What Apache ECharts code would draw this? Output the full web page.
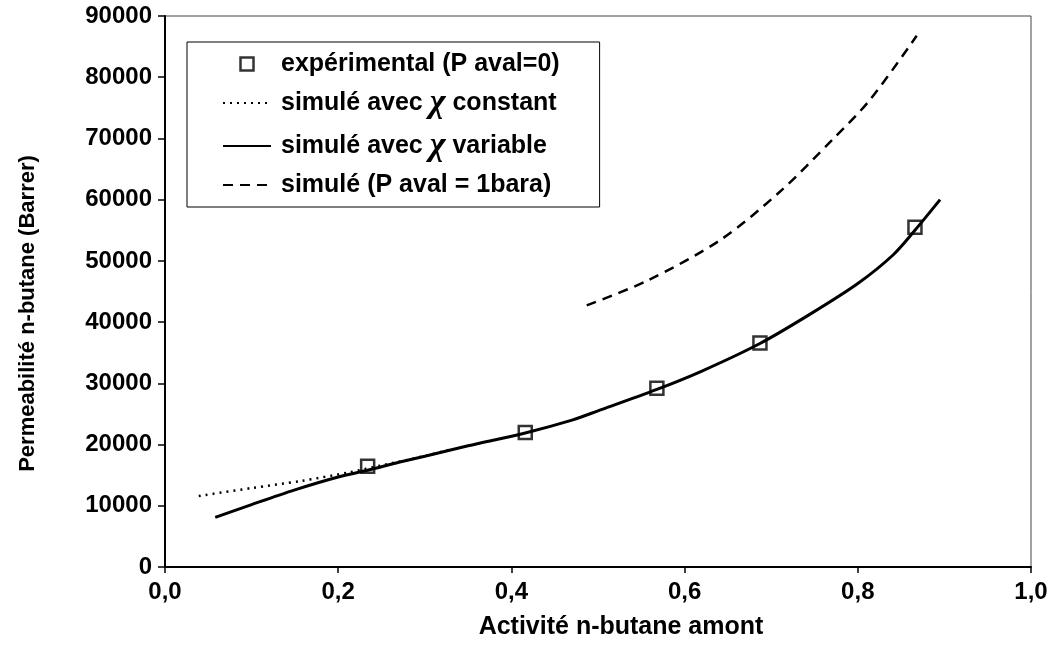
<!DOCTYPE html>
<html>
<head>
<meta charset="utf-8">
<script src="https://cdn.jsdelivr.net/npm/echarts@6/dist/echarts.min.js"></script>
<style>html,body{margin:0;padding:0;background:#fff}#c{width:1057px;height:645px}</style>
</head>
<body>
<div id="c"></div>
<script>
// Experimental points (P aval = 0)
const expX = [0.234, 0.416, 0.568, 0.687, 0.866];
const expY = [16450, 21950, 29200, 36600, 55500];
// Simulated, chi constant (dotted)
const constX = [0.039, 0.100, 0.157, 0.214, 0.250, 0.290, 0.330];
const constY = [11600, 12900, 14050, 15500, 16600, 17800, 19200];
// Simulated, chi variable (solid)
const varX = [0.058, 0.100, 0.150, 0.200, 0.234, 0.270, 0.300, 0.350, 0.416, 0.470, 0.500, 0.568, 0.620, 0.687, 0.745, 0.800, 0.841, 0.866, 0.895];
const varY = [8100, 10200, 12600, 14700, 15800, 17100, 18100, 19800, 21900, 24000, 25500, 29000, 32000, 36500, 41300, 46300, 51000, 55000, 60000];
// Simulated, P aval = 1 bara (dashed)
const dashX = [0.487, 0.557, 0.641, 0.710, 0.771, 0.814, 0.868];
const dashY = [42740, 46770, 53390, 61290, 69840, 76290, 86770];
// Legend names
const names = ['expérimental (P aval=0)', 'simulé avec χ constant', 'simulé avec χ variable', 'simulé (P aval = 1bara)'];
// Axis ticks
const xTicks = { min: 0, max: 1, interval: 0.2 };
const yTicks = { min: 0, max: 90000, interval: 10000 };

const pairs = (xs, ys) => xs.map((x, i) => [x, ys[i]]);
const FONT = '"Liberation Sans", Arial, Helvetica, sans-serif';
const noSym = { color: 'rgba(0,0,0,0)', borderColor: 'rgba(0,0,0,0)', borderWidth: 0 };

const chart = echarts.init(document.getElementById('c'));
chart.setOption({
  backgroundColor: '#fff',
  animation: false,
  textStyle: { fontFamily: FONT, color: '#000' },
  grid: { left: 165, right: 26, top: 16, bottom: 72, show: true, borderColor: '#444', borderWidth: 1 },
  legend: {
    orient: 'vertical',
    left: 187, top: 42,
    padding: [9, 40, 9, 35],
    backgroundColor: '#fff',
    borderColor: '#000', borderWidth: 1,
    itemWidth: 48, itemHeight: 13, itemGap: 9,
    symbolKeepAspect: true,
    data: [
      { name: names[0], icon: 'path://M0,0L10,0L10,10L0,10Z', itemStyle: { color: '#fff', borderColor: '#000', borderWidth: 2.5 } },
      { name: names[1], itemStyle: noSym },
      { name: names[2], itemStyle: noSym },
      { name: names[3], itemStyle: noSym }
    ],
    formatter: function (n) {
      const parts = n.split('χ');
      if (parts.length === 1) return '{t|' + n + '}';
      return '{t|' + parts[0] + '}{chi|χ}{t|' + parts[1] + '}';
    },
    textStyle: {
      fontFamily: FONT, fontSize: 25, fontWeight: 'bold', color: '#000', lineHeight: 26, padding: [0, 0, 0, 5],
      rich: {
        t: { fontFamily: FONT, fontSize: 25, fontWeight: 'bold', color: '#000', lineHeight: 26 },
        chi: { fontFamily: '"Liberation Serif", "DejaVu Serif", serif', fontSize: 34, fontStyle: 'italic', color: '#000', lineHeight: 26, verticalAlign: 'middle' }
      }
    }
  },
  xAxis: {
    type: 'value', min: xTicks.min, max: xTicks.max, interval: xTicks.interval,
    name: 'Activité n-butane amont', nameLocation: 'middle', nameGap: 48,
    nameTextStyle: { fontFamily: FONT, fontSize: 25, fontWeight: 'bold', color: '#000', padding: [0, 0, 0, 46] },
    axisLine: { lineStyle: { color: '#000', width: 2 } },
    axisTick: { show: true, inside: false, length: 6, lineStyle: { color: '#000', width: 1.5 } },
    axisLabel: { fontFamily: FONT, fontSize: 24, fontWeight: 'bold', color: '#000', margin: 13,
      formatter: v => v.toFixed(1).replace('.', ',') },
    splitLine: { show: false }
  },
  yAxis: {
    type: 'value', min: yTicks.min, max: yTicks.max, interval: yTicks.interval,
    name: 'Permeabilité n-butane (Barrer)', nameLocation: 'middle', nameGap: 126, nameRotate: 90,
    nameTextStyle: { fontFamily: FONT, fontSize: 22, fontWeight: 'bold', color: '#000', padding: [0, 44, 0, 0] },
    axisLine: { show: true, lineStyle: { color: '#000', width: 2 } },
    axisTick: { show: true, inside: false, length: 7, lineStyle: { color: '#000', width: 1.5 } },
    axisLabel: { fontFamily: FONT, fontSize: 24, fontWeight: 'bold', color: '#000', margin: 13,
      formatter: v => String(v) },
    splitLine: { show: false }
  },
  series: [
    {
      name: names[0], type: 'scatter', data: pairs(expX, expY),
      symbol: 'rect', symbolSize: 13, symbolKeepAspect: true, z: 5,
      itemStyle: { color: 'rgba(255,255,255,0)', borderColor: '#000', borderWidth: 2.5 }
    },
    {
      name: names[1], type: 'line', data: pairs(constX, constY), smooth: 0.3,
      symbol: 'none', showSymbol: false, itemStyle: noSym,
      lineStyle: { color: '#000', width: 2.5, type: [2, 5] }
    },
    {
      name: names[2], type: 'line', data: pairs(varX, varY), smooth: 0.3,
      symbol: 'none', showSymbol: false, itemStyle: noSym,
      lineStyle: { color: '#000', width: 3, type: 'solid' }
    },
    {
      name: names[3], type: 'line', data: pairs(dashX, dashY), smooth: 0.3,
      symbol: 'none', showSymbol: false, itemStyle: noSym,
      lineStyle: { color: '#000', width: 2.5, type: [10, 7] }
    }
  ]
});
</script>
</body>
</html>
